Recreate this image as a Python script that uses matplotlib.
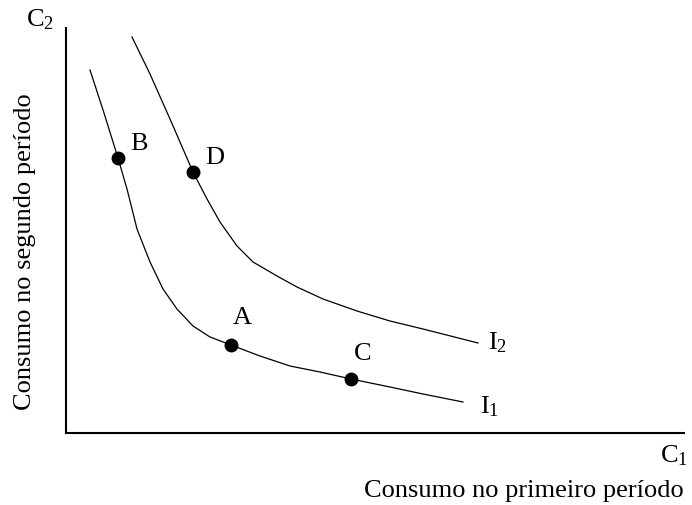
import matplotlib
matplotlib.use("Agg")
import matplotlib.pyplot as plt

# curve points (data units ~ pixels from origin)
i1_x = [24, 38, 52, 61, 71, 84, 97, 111, 127, 144, 165, 194, 224, 254, 285, 324, 357, 397]
i1_y = [363, 320, 275, 244, 204, 171, 144, 124, 107, 96, 88, 77, 67, 61, 54, 46, 39, 31]

i2_x = [66, 84, 104, 127, 141, 154, 171, 187, 211, 231, 257, 291, 324, 357, 412]
i2_y = [396, 359, 314, 261, 234, 211, 187, 171, 157, 146, 134, 122, 112, 104, 90]

point_names = ["A", "B", "C", "D"]
point_x = [165, 52, 285, 127]
point_y = [88, 275, 54, 261]

plt.rcParams["font.family"] = ["Liberation Serif", "DejaVu Serif"]
plt.rcParams["mathtext.fontset"] = "custom"
plt.rcParams["mathtext.rm"] = "Liberation Serif"
plt.rcParams["mathtext.it"] = "Liberation Serif:italic"
FS = 19

W, H = 692, 506
fig = plt.figure(figsize=(W / 100, H / 100), dpi=100)
ax = fig.add_axes([66 / W, (H - 434) / H, 618 / W, 405 / H])
ax.set_xlim(0, 618)
ax.set_ylim(0, 405)

ax.plot(i1_x, i1_y, color="black", lw=0.9)
ax.plot(i2_x, i2_y, color="black", lw=0.9)
ax.plot(point_x, point_y, "o", color="black", ms=9)

label_dx = {"A": 11, "B": 21, "C": 12, "D": 22}
label_dy = {"A": 28, "B": 15, "C": 26, "D": 15}
for n, x, y in zip(point_names, point_x, point_y):
    ax.text(x + label_dx[n], y + label_dy[n], n, fontsize=FS, ha="center", va="center")

ax.text(432, 91, r"I$_\mathrm{2}$", fontsize=FS, ha="center", va="center")
ax.text(424, 27, r"I$_\mathrm{1}$", fontsize=FS, ha="center", va="center")

ax.text(-26, 414, r"C$_\mathrm{2}$", fontsize=FS, ha="center", va="center", clip_on=False)
ax.text(608, -22, r"C$_\mathrm{1}$", fontsize=FS, ha="center", va="center", clip_on=False)

fig.text(524 / W, 1 - 491 / H, "Consumo no primeiro período", fontsize=FS,
         ha="center", va="center")
fig.text(25 / W, 1 - 252 / H, "Consumo no segundo período", fontsize=FS,
         ha="center", va="center", rotation=90)

ax.set_xticks([])
ax.set_yticks([])
for s in ["top", "right"]:
    ax.spines[s].set_visible(False)
for s in ["left", "bottom"]:
    ax.spines[s].set_linewidth(1.5)

fig.savefig("out.png", dpi=100)
